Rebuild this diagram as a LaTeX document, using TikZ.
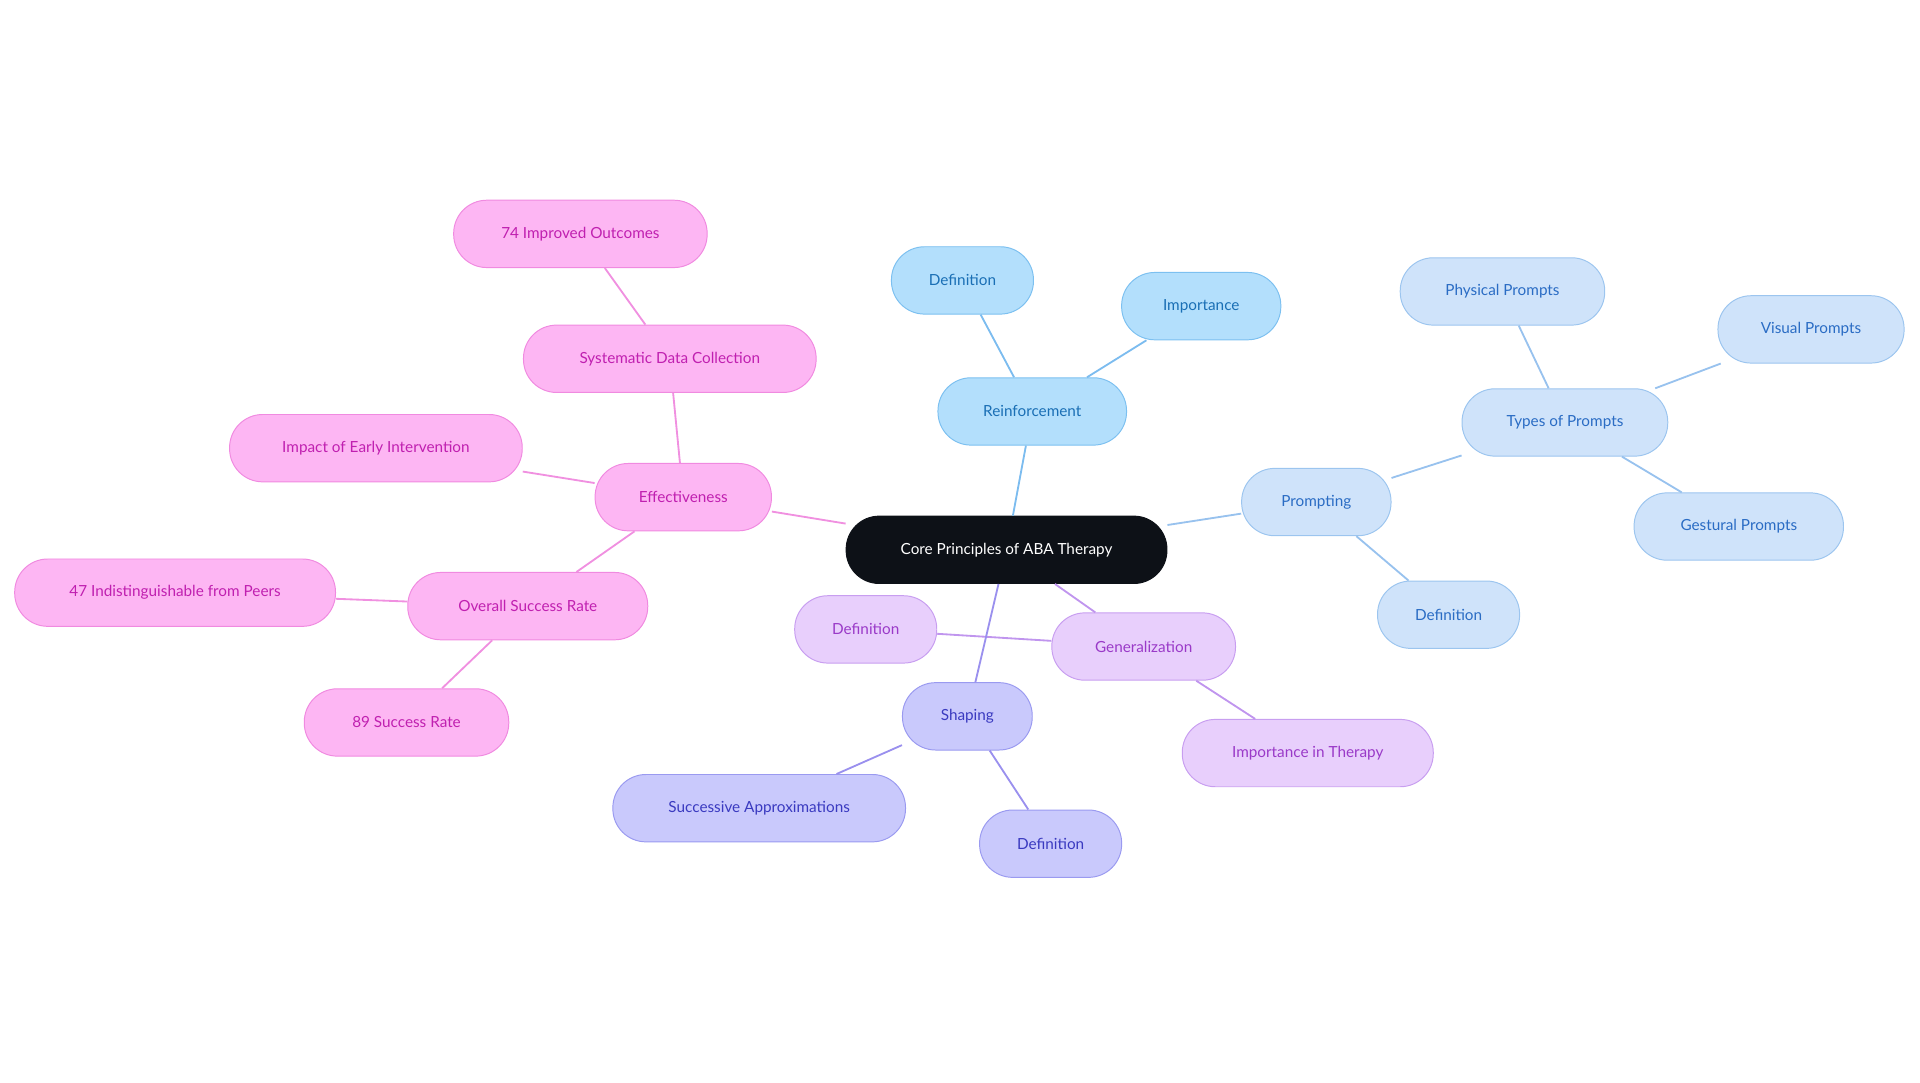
\documentclass[tikz,border=0pt]{standalone}
\usepackage{fontspec}
\setmainfont{Lato}
\begin{document}
\begin{tikzpicture}[x=1pt,y=-1pt,
 base/.style={rounded corners=27pt,minimum height=55pt,font=\fontsize{12.5}{14}\selectfont,line width=0.8pt,inner sep=0pt},
 cb/.style={base,fill=cfill,draw=cdraw,text=white},
 rb/.style={base,fill=rfill,draw=rdraw,text=rtext},
 pb/.style={base,fill=pfill,draw=pdraw,text=ptext},
 gb/.style={base,fill=gfill,draw=gdraw,text=gtext},
 sb/.style={base,fill=sfill,draw=sdraw,text=stext},
 eb/.style={base,fill=efill,draw=edraw,text=etext},
 ln/.style={line width=1.5pt}]
\definecolor{cfill}{HTML}{0D1117}\definecolor{cdraw}{HTML}{0D1117}
\definecolor{rfill}{HTML}{B3DFFC}\definecolor{rdraw}{HTML}{7CC0F0}\definecolor{rtext}{HTML}{1A6FB5}\definecolor{rline}{HTML}{7CBCEF}
\definecolor{pfill}{HTML}{CFE3FA}\definecolor{pdraw}{HTML}{9CC5EF}\definecolor{ptext}{HTML}{2A6CC4}\definecolor{pline}{HTML}{98C2EE}
\definecolor{gfill}{HTML}{E8CFFC}\definecolor{gdraw}{HTML}{C89EF0}\definecolor{gtext}{HTML}{9A3AC8}\definecolor{gline}{HTML}{C095EE}
\definecolor{sfill}{HTML}{C9C9FC}\definecolor{sdraw}{HTML}{9A9AF0}\definecolor{stext}{HTML}{3A3AC0}\definecolor{sline}{HTML}{9A90EE}
\definecolor{efill}{HTML}{FDB6F3}\definecolor{edraw}{HTML}{F08AE0}\definecolor{etext}{HTML}{C020B0}\definecolor{eline}{HTML}{F090E0}
\useasboundingbox (0,0) rectangle (1568,884);
\node[cb,minimum width=262pt] (c) at (822,449) {Core Principles of ABA Therapy};
\node[rb,minimum width=154pt] (r) at (843,336) {Reinforcement};
\node[rb,minimum width=116pt] (rd) at (786,229) {Definition};
\node[rb,minimum width=130pt] (ri) at (981,250) {Importance};
\node[pb,minimum width=122pt] (p) at (1075,410) {Prompting};
\node[pb,minimum width=168pt] (pt) at (1278,345) {Types of Prompts};
\node[pb,minimum width=167pt] (pp) at (1227,238) {Physical Prompts};
\node[pb,minimum width=152pt] (pv) at (1479,269) {Visual Prompts};
\node[pb,minimum width=171pt] (pg) at (1420,430) {Gestural Prompts};
\node[pb,minimum width=116pt] (pd) at (1183,502) {Definition};
\node[gb,minimum width=150pt] (g) at (934,528) {Generalization};
\node[gb,minimum width=116pt] (gd) at (707,514) {Definition};
\node[gb,minimum width=205pt] (gi) at (1068,615) {Importance in Therapy};
\node[sb,minimum width=106pt] (s) at (790,585) {Shaping};
\node[sb,minimum width=239pt] (sa) at (620,660) {Successive Approximations};
\node[sb,minimum width=116pt] (sd) at (858,689) {Definition};
\node[eb,minimum width=144pt] (e) at (558,406) {Effectiveness};
\node[eb,minimum width=239pt] (es) at (547,293) {Systematic Data Collection};
\node[eb,minimum width=207pt] (e7) at (474,191) {74 Improved Outcomes};
\node[eb,minimum width=239pt] (ei) at (307,366) {Impact of Early Intervention};
\node[eb,minimum width=196pt] (eo) at (431,495) {Overall Success Rate};
\node[eb,minimum width=262pt] (e4) at (143,484) {47 Indistinguishable from Peers};
\node[eb,minimum width=167pt] (e8) at (332,590) {89 Success Rate};
\begin{scope}[on background layer/.style={}]
\end{scope}
\begin{pgfinterruptboundingbox}\end{pgfinterruptboundingbox}
\begin{scope}[ln]
\draw[rline] (c) -- (r); \draw[rline] (r) -- (rd); \draw[rline] (r) -- (ri);
\draw[pline] (c) -- (p); \draw[pline] (p) -- (pt); \draw[pline] (pt) -- (pp); \draw[pline] (pt) -- (pv); \draw[pline] (pt) -- (pg); \draw[pline] (p) -- (pd);
\draw[gline] (c) -- (g); \draw[gline] (g) -- (gd); \draw[gline] (g) -- (gi);
\draw[sline] (c) -- (s); \draw[sline] (s) -- (sa); \draw[sline] (s) -- (sd);
\draw[eline] (c) -- (e); \draw[eline] (e) -- (es); \draw[eline] (es) -- (e7); \draw[eline] (e) -- (ei); \draw[eline] (e) -- (eo); \draw[eline] (eo) -- (e4); \draw[eline] (eo) -- (e8);
\end{scope}
\end{tikzpicture}
\end{document}
